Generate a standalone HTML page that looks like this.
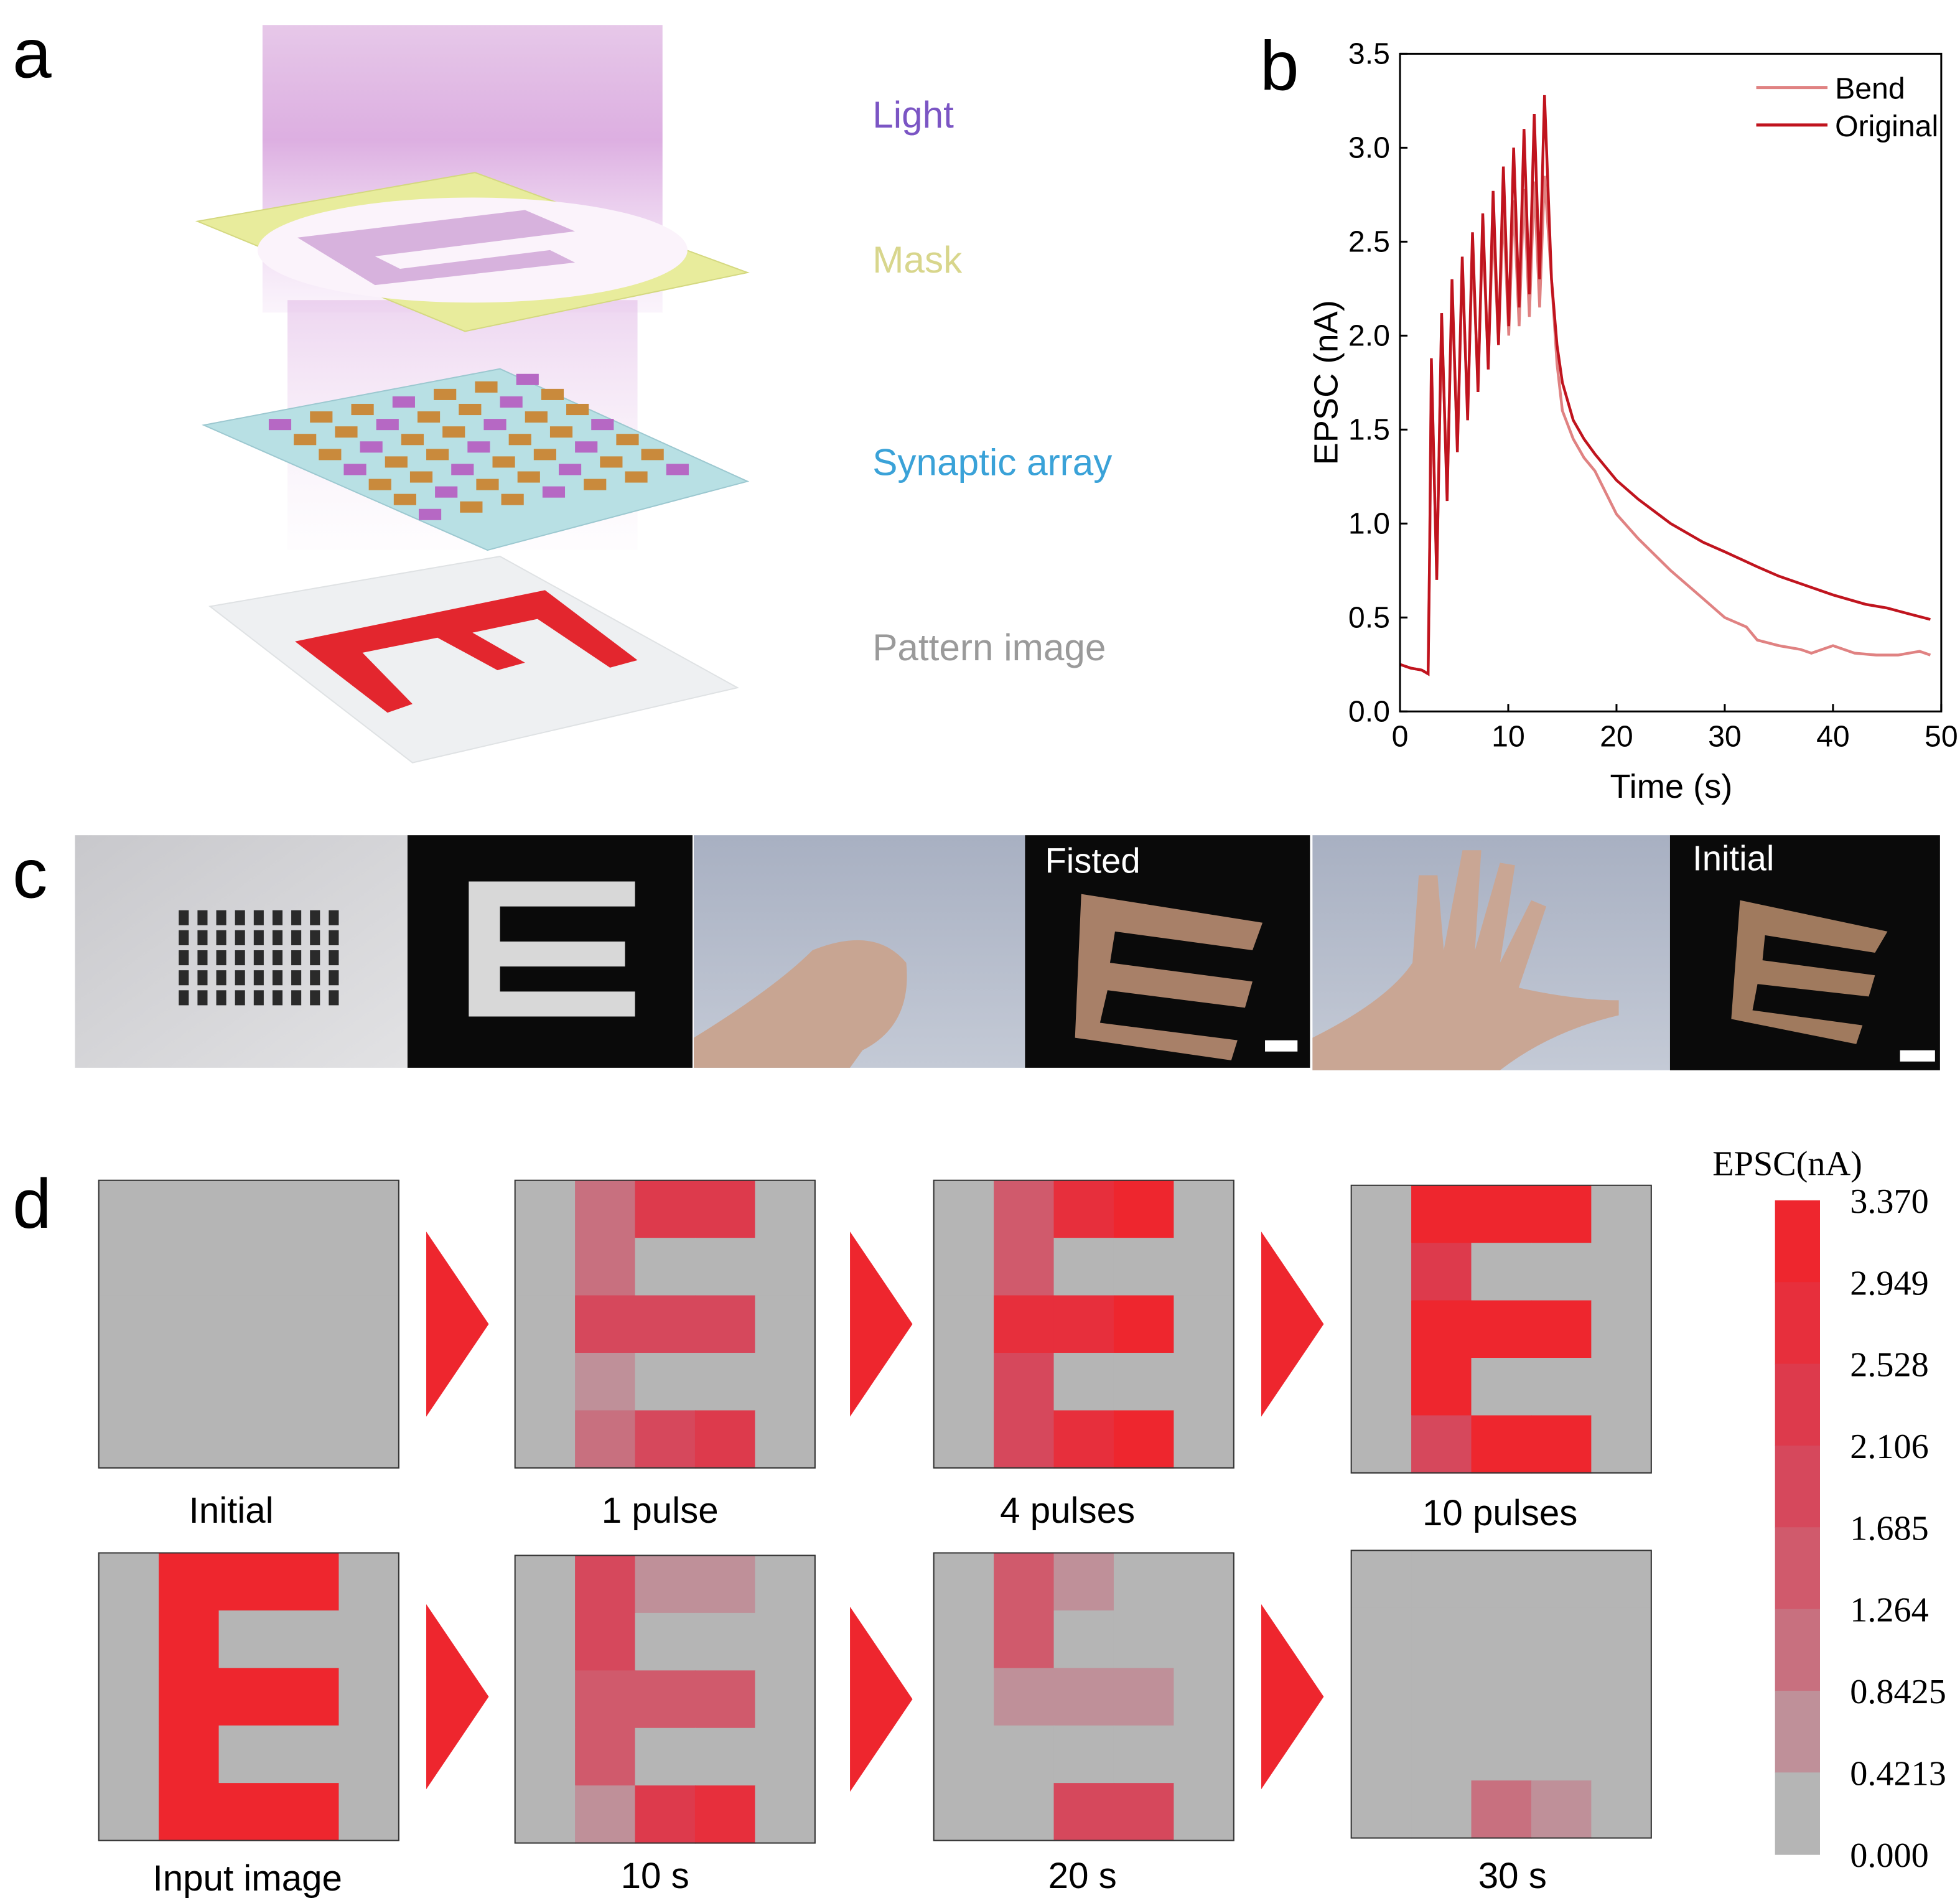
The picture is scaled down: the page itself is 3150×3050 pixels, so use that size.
<!DOCTYPE html>
<html><head><meta charset="utf-8"><style>
html,body{margin:0;padding:0;background:#fff}
svg{display:block}
text{font-family:"Liberation Sans",sans-serif}
.serif{font-family:"Liberation Serif",serif}
</style></head><body>
<svg id="fig" width="3150" height="3050" viewBox="0 0 1568 1518" preserveAspectRatio="none" xmlns="http://www.w3.org/2000/svg">
<defs>
<linearGradient id="beam" x1="0" y1="0" x2="0" y2="1">
<stop offset="0" stop-color="#d6a3da" stop-opacity="0.6"/><stop offset="0.4" stop-color="#d9a6de" stop-opacity="0.9"/><stop offset="1" stop-color="#e8c8ee" stop-opacity="0.2"/></linearGradient>
<linearGradient id="beam2" x1="0" y1="0" x2="0" y2="1">
<stop offset="0" stop-color="#e6c4ea" stop-opacity="0.7"/><stop offset="1" stop-color="#f4e8f6" stop-opacity="0.1"/></linearGradient>
<linearGradient id="photo1" x1="0" y1="0" x2="1" y2="1"><stop offset="0" stop-color="#c8c8cc"/><stop offset="1" stop-color="#e2e2e4"/></linearGradient>
<linearGradient id="photo2" x1="0" y1="0" x2="0" y2="1"><stop offset="0" stop-color="#a8b0c2"/><stop offset="1" stop-color="#c4cad6"/></linearGradient>
</defs>

<!-- Panel a -->
<g>
<text x="10" y="62" font-size="56">a</text>
<rect x="210" y="20" width="320" height="230" fill="url(#beam)"/>
<rect x="230" y="240" width="280" height="200" fill="url(#beam2)"/>
<polygon points="158,177 380,138 598,218 372,265" fill="#e8ec9c" stroke="#d4d880"/>
<ellipse cx="378" cy="200" rx="172" ry="42" fill="#fbf3fb"/>
<polygon points="238,190 420,168 460,185 300,205 320,215 440,200 460,210 300,228" fill="#c796d0" opacity="0.7"/>
<polygon points="163,340 400,295 598,385 390,440" fill="#b8e0e4" stroke="#9cc8d0"/>
<g id="arrayDots"></g>
<polygon points="168,485 400,445 590,550 330,610" fill="#eef0f2" stroke="#dfe2e4"/>
<polygon points="236,513 436,472 510,528 488,534 430,495 378,506 420,530 398,536 350,510 290,522 330,563 310,570" fill="#e3262e"/>
<text x="698" y="102" font-size="30" fill="#7b55c4">Light</text>
<text x="698" y="218" font-size="30" fill="#d8d68c">Mask</text>
<text x="698" y="380" font-size="30" fill="#3aa2d8">Synaptic array</text>
<text x="698" y="528" font-size="30" fill="#9a9a9a">Pattern image</text>
</g>

<!-- Panel b -->
<g id="panelB">
<text x="1008" y="72" font-size="56">b</text>
</g>

<!-- Panel c -->
<g>
<text x="10" y="718" font-size="56">c</text>
<rect x="60" y="668" width="266" height="186" fill="url(#photo1)"/>
<g id="flatDots"></g>
<rect x="326" y="668" width="228" height="186" fill="#0a0a0a"/>
<path d="M375,705 h133 v20 h-108 v28 h100 v20 h-100 v20 h108 v20 h-133 z" fill="#d8d8d8"/>
<rect x="555" y="668" width="265" height="186" fill="url(#photo2)"/>
<path d="M555,854 L555,830 Q620,790 650,760 Q700,740 725,770 Q730,820 690,840 L680,854 Z" fill="#c8a592"/>
<rect x="820" y="668" width="228" height="186" fill="#0a0a0a"/>
<text x="836" y="698" font-size="28" fill="#fff">Fisted</text>
<polygon points="865,715 1010,738 1002,760 892,745 888,770 1002,785 996,806 886,792 880,818 990,832 985,848 860,830" fill="#a88068"/>
<rect x="1012" y="832" width="26" height="9" fill="#fff"/>
<rect x="1050" y="668" width="286" height="188" fill="url(#photo2)"/>
<path d="M1050,856 L1050,830 Q1110,800 1130,770 L1135,700 L1150,700 L1155,760 L1170,680 L1185,680 L1180,760 L1200,690 L1212,692 L1200,770 L1225,720 L1237,725 L1215,790 Q1260,800 1295,800 L1295,812 Q1240,825 1200,856 Z" fill="#c9a694"/>
<rect x="1336" y="668" width="216" height="188" fill="#0a0a0a"/>
<text x="1354" y="696" font-size="28" fill="#fff">Initial</text>
<polygon points="1392,720 1510,745 1500,762 1412,748 1410,768 1500,780 1495,797 1406,787 1402,808 1490,820 1485,835 1385,815" fill="#a07a5e"/>
<rect x="1520" y="840" width="28" height="9" fill="#fff"/>
</g>

<!-- Panel d -->
<g id="panelD">
<text x="10" y="982" font-size="56">d</text>
<text x="1370" y="940" font-size="28" class="serif">EPSC(nA)</text>
</g>
</svg>

<script>
const NS = "http://www.w3.org/2000/svg";
function mk(tag, attrs, parent){const e=document.createElementNS(NS,tag);for(const k in attrs)e.setAttribute(k,attrs[k]);parent.appendChild(e);return e;}

const arr = document.getElementById('arrayDots');
for(let i=0;i<7;i++)for(let j=0;j<7;j++){
  const x=215+i*33+j*20, y=335-i*6+j*12;
  const r=mk('rect',{x:x,y:y,width:18,height:9,fill:(i+j)%3?'#c98a3c':'#b668c4'},arr);
  
  
}
const fd = document.getElementById('flatDots');
for(let i=0;i<9;i++)for(let j=0;j<5;j++){
  const r=mk('rect',{x:143+i*15,y:728+j*16,width:8,height:12,fill:'#2a2a2a'},fd);
  
  
}

// ---- Panel b chart data ----
const xTicks = [0,10,20,30,40,50];
const yTicks = ["0.0","0.5","1.0","1.5","2.0","2.5","3.0","3.5"];
const origTime = [0,1,2,2.6,2.75,2.9,3.4,3.85,4.35,4.8,5.3,5.75,6.25,6.7,7.2,7.65,8.15,8.6,9.1,9.55,10.05,10.5,11.0,11.45,11.95,12.4,12.9,13.35,14,14.5,15,16,17,18,20,22,25,28,30,33,35,38,40,43,45,47,49];
const origVal = [0.25,0.23,0.22,0.2,0.9,1.88,0.7,2.12,1.12,2.3,1.38,2.42,1.55,2.55,1.7,2.65,1.82,2.77,1.95,2.9,2.05,3.0,2.15,3.1,2.22,3.18,2.3,3.28,2.3,1.95,1.75,1.55,1.45,1.37,1.23,1.13,1.0,0.9,0.85,0.77,0.72,0.66,0.62,0.57,0.55,0.52,0.49];
const bendTime = [0,1,2,2.6,2.75,2.9,3.4,3.85,4.35,4.8,5.3,5.75,6.25,6.7,7.2,7.65,8.15,8.6,9.1,9.55,10.05,10.5,11.0,11.45,11.95,12.4,12.9,13.35,14,14.5,15,16,17,18,20,22,25,28,30,32,33,35,37,38,40,42,44,46,48,49];
const bendVal = [0.25,0.23,0.22,0.2,0.9,1.85,0.72,2.1,1.15,2.25,1.4,2.35,1.6,2.45,1.75,2.55,1.85,2.6,1.95,2.68,2.0,2.72,2.05,2.78,2.1,2.82,2.15,2.85,2.3,1.85,1.6,1.45,1.35,1.28,1.05,0.92,0.75,0.6,0.5,0.45,0.38,0.35,0.33,0.31,0.35,0.31,0.3,0.3,0.32,0.3];

const PX0=1120, PX1=1553, PY0=569, PY1=43;
const xs = t => PX0 + (t/50)*(PX1-PX0);
const ys = v => PY0 - (v/3.5)*(PY0-PY1);
const pb = document.getElementById('panelB');

function series(times, vals, color, name){
  let d='';
  times.forEach((t,i)=>{d+=(i?'L':'M')+xs(t).toFixed(1)+','+ys(vals[i]).toFixed(1);});
  const p=mk('path',{d:d,fill:'none',stroke:color,'stroke-width':2.2},pb);
  
  
}
series(bendTime,bendVal,'#e08282','bend-series');
series(origTime,origVal,'#c0141e','original-series');

const frame=mk('rect',{x:PX0,y:PY1,width:PX1-PX0,height:PY0-PY1,fill:'none',stroke:'#000','stroke-width':1.5},pb);



xTicks.forEach(t=>{
  const l=mk('line',{x1:xs(t),x2:xs(t),y1:PY0,y2:PY0-6,stroke:'#000','stroke-width':1.5},pb);
  
  
  const tx=mk('text',{x:xs(t),y:PY0+28,'font-size':24,'text-anchor':'middle'},pb);
  tx.textContent=t;
  
  
});
yTicks.forEach(s=>{
  const v=parseFloat(s);
  const l=mk('line',{x1:PX0,x2:PX0+6,y1:ys(v),y2:ys(v),stroke:'#000','stroke-width':1.5},pb);
  
  
  const tx=mk('text',{x:PX0-8,y:ys(v)+8,'font-size':24,'text-anchor':'end'},pb);
  tx.textContent=s;
  
  
});
const xt=mk('text',{x:1337,y:638,'font-size':27,'text-anchor':'middle'},pb);
xt.textContent='Time (s)';


const yt=mk('text',{x:1070,y:306,'font-size':27,'text-anchor':'middle',transform:'rotate(-90 1070 306)'},pb);
yt.textContent='EPSC (nA)';


[['Bend','#e08282',70],['Original','#c0141e',100]].forEach(([n,c,y])=>{
  const l=mk('line',{x1:1405,x2:1462,y1:y,y2:y,stroke:c,'stroke-width':2.5},pb);
  
  
  const t=mk('text',{x:1468,y:y+9,'font-size':24},pb);
  t.textContent=n;
  
  
});

// ---- Panel d data ----
const levelColors = ['#b5b5b5','#bf9099','#c8707f','#d05a6c','#d6485c','#dd3a4c','#e72f3c','#ee262e'];
const cbLabels = ["3.370","2.949","2.528","2.106","1.685","1.264","0.8425","0.4213","0.000"];
const gridInitial = [[0,0,0,0,0],[0,0,0,0,0],[0,0,0,0,0],[0,0,0,0,0],[0,0,0,0,0]];
const grid1Pulse = [[0,2,5,5,0],[0,2,0,0,0],[0,4,4,4,0],[0,1,0,0,0],[0,2,4,5,0]];
const grid4Pulses = [[0,3,6,7,0],[0,3,0,0,0],[0,6,6,7,0],[0,4,0,0,0],[0,4,6,7,0]];
const grid10Pulses = [[0,7,7,7,0],[0,5,0,0,0],[0,7,7,7,0],[0,7,0,0,0],[0,4,7,7,0]];
const gridInput = [[0,7,7,7,0],[0,7,0,0,0],[0,7,7,7,0],[0,7,0,0,0],[0,7,7,7,0]];
const grid10s = [[0,4,1,1,0],[0,4,0,0,0],[0,3,3,3,0],[0,3,0,0,0],[0,1,5,6,0]];
const grid20s = [[0,3,1,0,0],[0,3,0,0,0],[0,1,1,1,0],[0,0,0,0,0],[0,0,4,4,0]];
const grid30s = [[0,0,0,0,0],[0,0,0,0,0],[0,0,0,0,0],[0,0,0,0,0],[0,0,2,1,0]];
const gridLabels = ["Initial","1 pulse","4 pulses","10 pulses","Input image","10 s","20 s","30 s"];

const pd=document.getElementById('panelD');
const grids=[gridInitial,grid1Pulse,grid4Pulses,grid10Pulses,gridInput,grid10s,grid20s,grid30s];
const gx=[79,412,747,1081], gy=[[944,944,944,948],[1242,1244,1242,1240]];
const lblY=[[1218,1218,1218,1220],[1512,1510,1510,1510]];
const lblX=[[185,528,854,1200],[198,524,866,1210]];
grids.forEach((g,k)=>{
  const r=Math.floor(k/4), c=k%4, x0=gx[c], y0=gy[r][c];
  g.forEach((row,i)=>row.forEach((lv,j)=>{
    const cell=mk('rect',{x:x0+j*48,y:y0+i*46,width:48.5,height:46.5,fill:levelColors[lv]},pd);
    
    
  }));
  const b=mk('rect',{x:x0,y:y0,width:240,height:230,fill:'none',stroke:'#333','stroke-width':1},pd);
  
  
  const t=mk('text',{x:lblX[r][c],y:lblY[r][c],'font-size':29,'text-anchor':'middle'},pd);
  t.textContent=gridLabels[k];
  
  
  if(c<3){
    const ax=[341,680,1009][c], cy=y0+115;
    const a=mk('polygon',{points:`${ax},${cy-74} ${ax+50},${cy} ${ax},${cy+74}`,fill:'#ee262e'},pd);
    
    
  }
});
const cbX=1420, cbTop=960, cbBot=1483, segH=(cbBot-cbTop)/8;
for(let i=0;i<8;i++){
  const s=mk('rect',{x:cbX,y:cbTop+i*segH,width:36,height:segH+0.5,fill:levelColors[7-i]},pd);
  
  
}
cbLabels.forEach((l,i)=>{
  const t=mk('text',{x:1480,y:cbTop+i*segH+10,'font-size':28,class:'serif'},pd);
  t.textContent=l;
  
  
});
</script>
</body></html>
